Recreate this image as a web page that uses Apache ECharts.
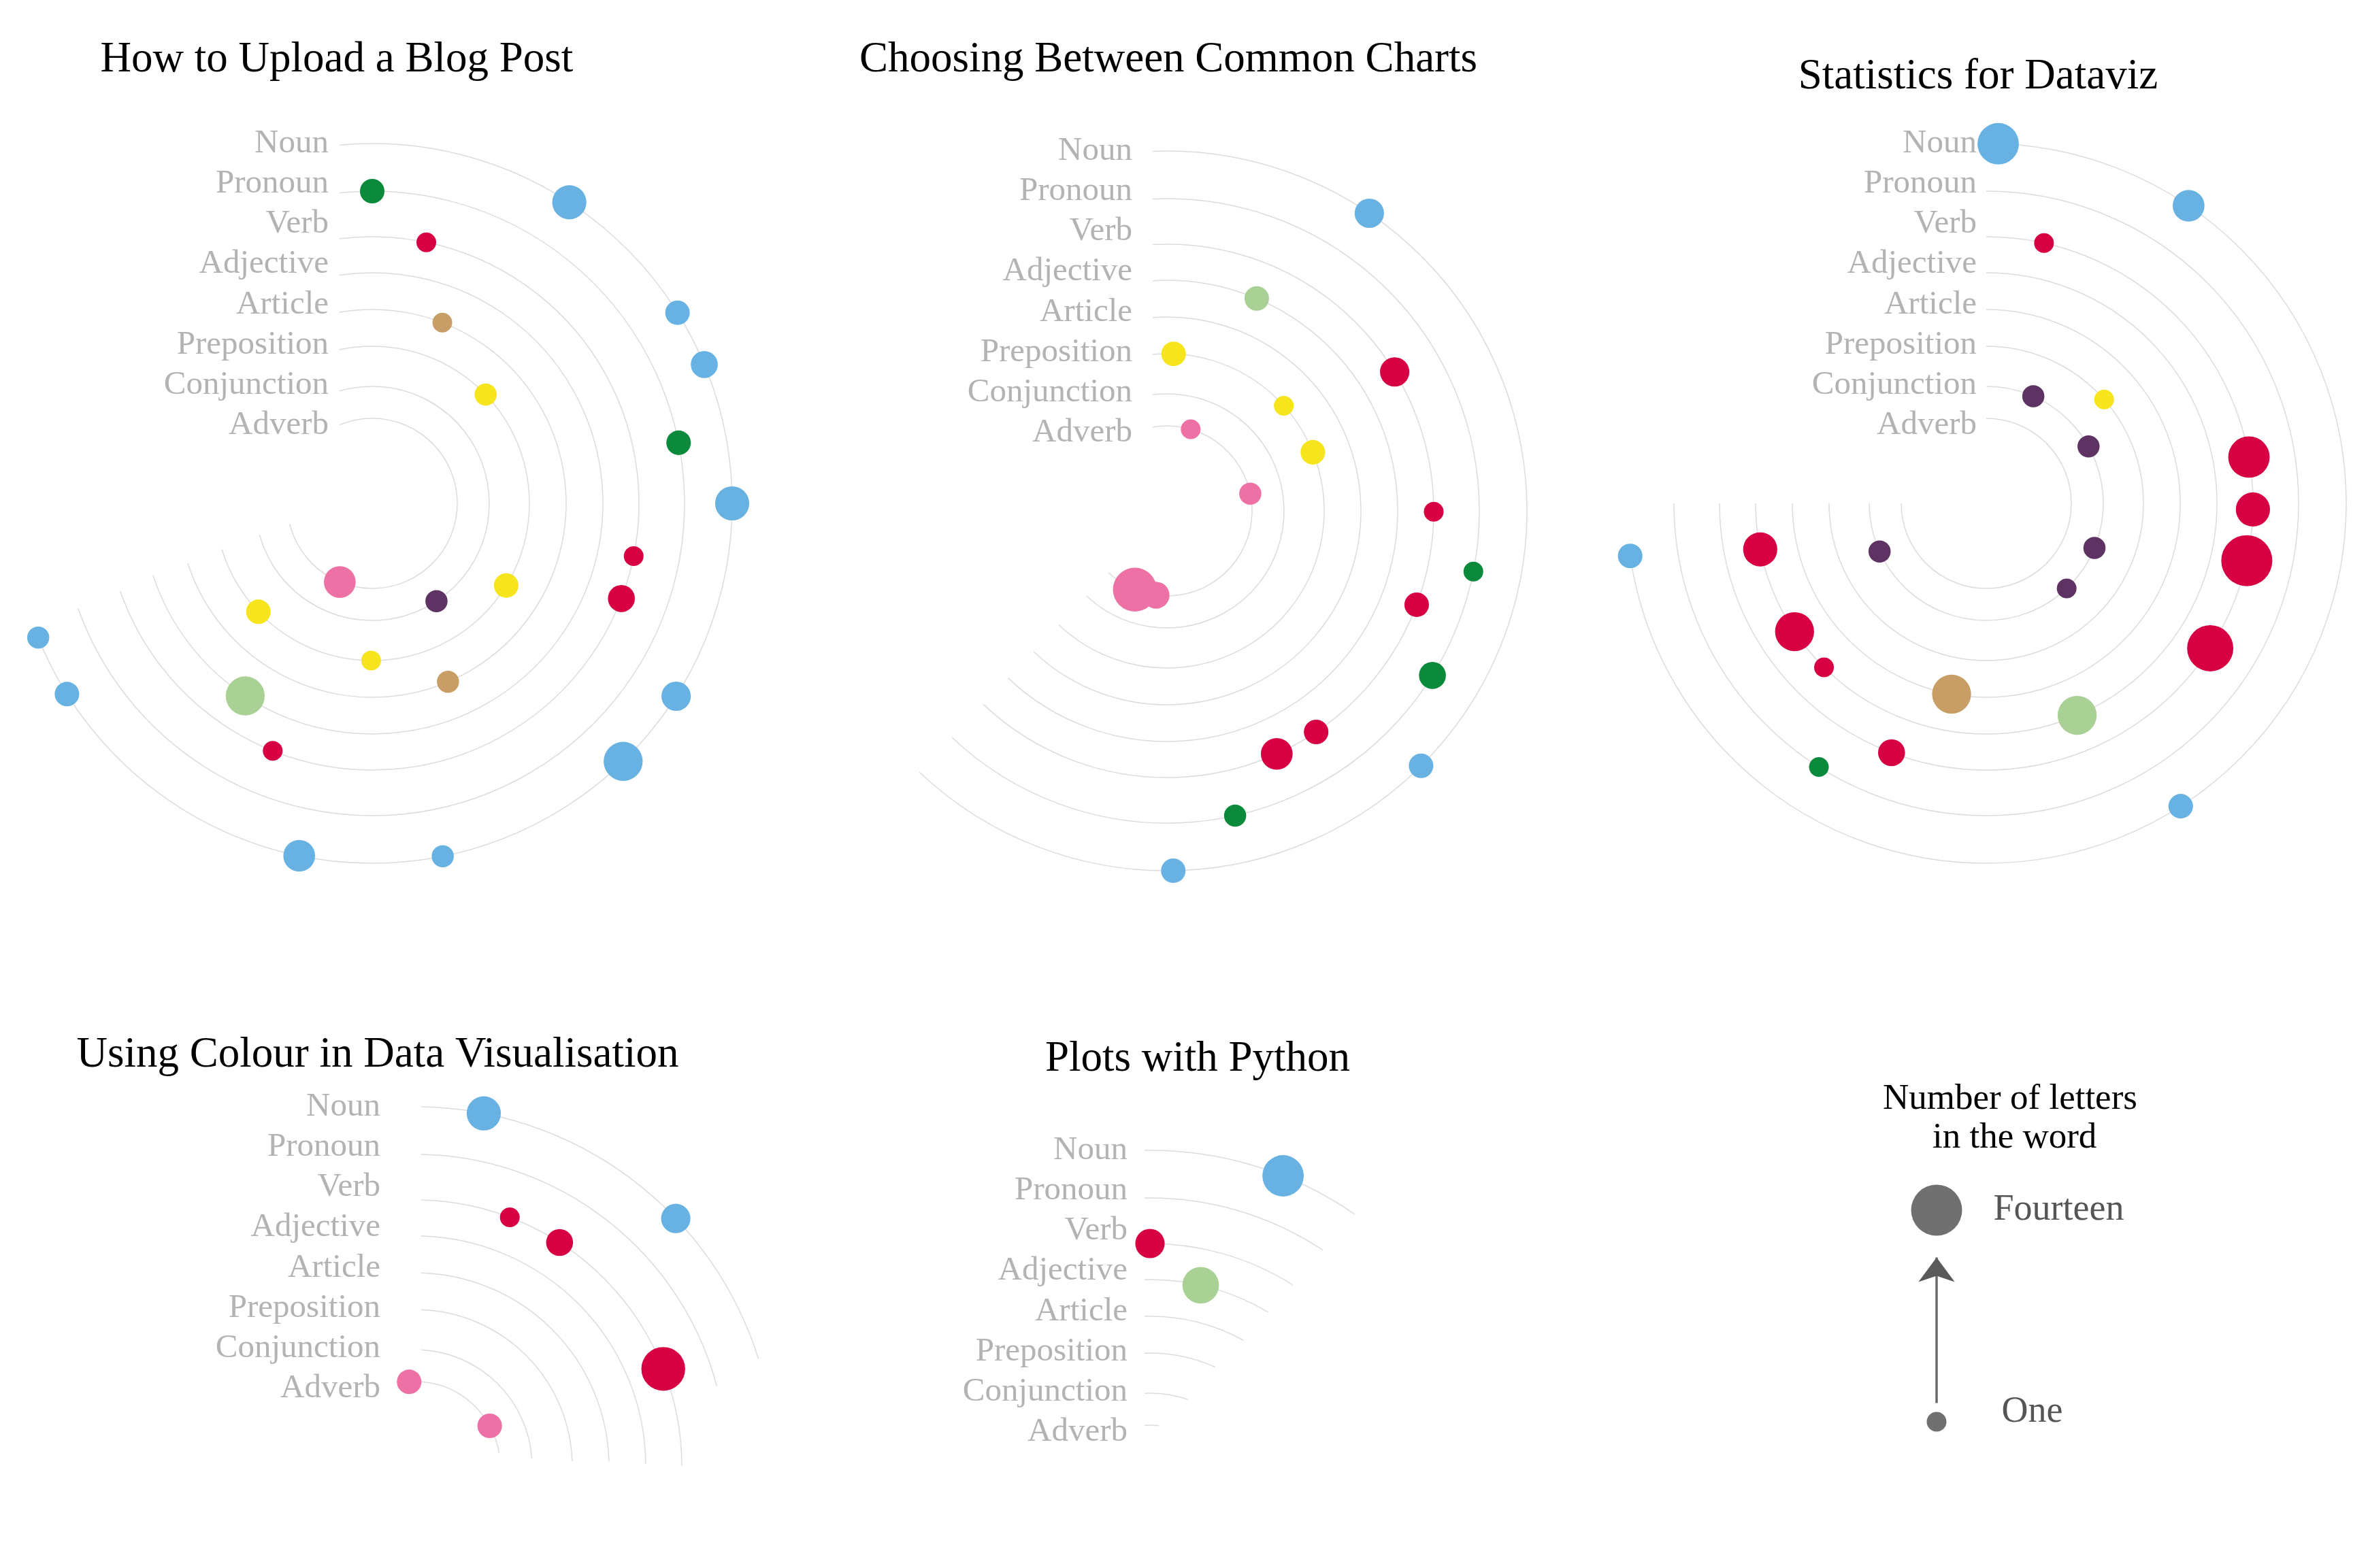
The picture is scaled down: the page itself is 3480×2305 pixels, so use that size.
<!DOCTYPE html>
<html>
<head>
<meta charset="utf-8">
<title>Parts of speech in blog post titles</title>
<script src="https://cdn.jsdelivr.net/npm/echarts@6/dist/echarts.min.js"></script>
<style>
  html, body { margin: 0; padding: 0; background: #fff; }
  #main { width: 3480px; height: 2305px; }
</style>
</head>
<body>
<div id="main"></div>
<script>
// rings, inside out
const partsOfSpeech = ['Adverb', 'Conjunction', 'Preposition', 'Article', 'Adjective', 'Verb', 'Pronoun', 'Noun'];
const ringRadius = [125, 172, 231, 285, 339, 392, 459, 529];
// the names sit evenly spaced, not on the ring heights
const labelLevel = [115, 174, 233, 292, 352, 411, 470, 529];

const posColours = {
  Noun: '#67b2e3',
  Pronoun: '#0b8a3b',
  Verb: '#d70042',
  Adjective: '#a9d196',
  Article: '#c99e66',
  Preposition: '#f6e51c',
  Conjunction: '#5e3262',
  Adverb: '#ee71a6'
};

// each word: [part of speech, angle (deg, clockwise from top), letters, ring if not its own]
const blogPostWords = [
  ['Pronoun', 0, 3], ['Noun', 33.2, 7], ['Verb', 11.7, 1], ['Article', 21.2, 1],
  ['Preposition', 46.2, 2], ['Noun', 58, 3], ['Noun', 67.3, 4], ['Pronoun', 78.8, 3],
  ['Noun', 90, 7], ['Verb', 101.4, 1], ['Verb', 110.9, 4], ['Preposition', 121.5, 3],
  ['Noun', 122.4, 5], ['Noun', 135.8, 9], ['Conjunction', 146.7, 2], ['Article', 157, 2],
  ['Noun', 168.7, 2], ['Preposition', 180.4, 1], ['Noun', 191.7, 6], ['Verb', 201.9, 1],
  ['Adverb', 202.4, 6], ['Adjective', 213.4, 9], ['Preposition', 226.4, 3],
  ['Noun', 238, 3], ['Noun', 248.1, 2]
];
const commonChartsWords = [
  ['Preposition', 2.4, 3], ['Adverb', 16.2, 1], ['Adjective', 22.9, 3], ['Noun', 34.2, 5],
  ['Preposition', 48, 1], ['Verb', 58.6, 5], ['Preposition', 68.1, 3], ['Adverb', 78.3, 2],
  ['Verb', 90.2, 1], ['Pronoun', 101.2, 1], ['Verb', 110.6, 3], ['Pronoun', 121.8, 4],
  ['Noun', 135.1, 3], ['Verb', 146, 3], ['Verb', 155.7, 6], ['Pronoun', 167.4, 2],
  ['Noun', 179, 3], ['Adverb', 187.4, 4], ['Adverb', 202.2, 11]
];
const statisticsWords = [
  ['Noun', 1.9, 10], ['Verb', 12.5, 1], ['Conjunction', 23.7, 2], ['Noun', 34.2, 6],
  ['Preposition', 48.6, 1], ['Conjunction', 60.9, 2], ['Verb', 80, 10], ['Verb', 91.3, 7],
  ['Verb', 102.4, 14], ['Conjunction', 112.4, 2], ['Verb', 122.9, 12], ['Conjunction', 136.6, 1],
  ['Noun', 147.3, 3], ['Adjective', 156.8, 9], ['Article', 190.3, 9], ['Verb', 200.8, 4],
  ['Pronoun', 212.4, 1], ['Verb', 224.7, 1, 'Adjective'], ['Verb', 236.2, 9, 'Adjective'],
  ['Conjunction', 245.7, 2], ['Verb', 258.5, 7, 'Adjective'], ['Noun', 261.6, 3]
];
const colourWords = [
  ['Adverb', -4, 3], ['Noun', 11, 7], ['Verb', 20.8, 1], ['Verb', 32.8, 4],
  ['Noun', 46.4, 5], ['Adverb', 61.3, 3], ['Verb', 68.5, 11]
];
const pythonWords = [
  ['Verb', 0, 5], ['Adjective', 12.7, 8], ['Noun', 21.7, 10]
];

// where each ring stops (deg), inside out
const blogPostArcEnd = [256, 254.5, 253, 252, 251.8, 250.8, 250.3, 248];
const commonChartsArcEnd = [223.5, 223.5, 223.5, 223.5, 223.5, 223.5, 223.5, 223.5];
const statisticsArcEnd = [270, 270, 270, 270, 270, 270, 270, 261.6];
const colourArcEnd = [81, 86, 88, 88.5, 89.3, 89.8, 75, 72.5];
const pythonArcEnd = [6, 19, 24.5, 28.8, 30.8, 32.3, 33.6, 34.6];

const serif = '"Liberation Serif", "DejaVu Serif", serif';

const panels = [
  { title: 'How to Upload a Blog Post', words: blogPostWords, arcEnd: blogPostArcEnd,
    center: [547, 740], titleAt: [490, 83], startGap: 48, labelGap: 64 },
  { title: 'Choosing Between Common Charts', words: commonChartsWords, arcEnd: commonChartsArcEnd,
    center: [1715, 751], titleAt: [1712, 83], startGap: 21, labelGap: 51 },
  { title: 'Statistics for Dataviz', words: statisticsWords, arcEnd: statisticsArcEnd,
    center: [2919, 740], titleAt: [2902, 108], startGap: 0, labelGap: 14 },
  { title: 'Using Colour in Data Visualisation', words: colourWords, arcEnd: colourArcEnd,
    center: [610, 2156], titleAt: [550, 1546], startGap: -9, labelGap: 51 },
  { title: 'Plots with Python', words: pythonWords, arcEnd: pythonArcEnd,
    center: [1690, 2220], titleAt: [1755, 1552], startGap: 8, labelGap: 33 }
];

// dot diameter from number of letters (One -> Fourteen)
function sizeOf(letters) {
  return 29 + (letters - 1) * 46 / 13;
}

function ringRenderer(panel) {
  return function (params, api) {
    const cs = params.coordSys;
    const k = api.value(2);
    const top = api.coord([api.value(0), 0]);
    const R = cs.cy - top[1];
    const gap = panel.startGap;
    const a0 = -Math.asin(gap / R);
    const a1 = panel.arcEnd[k] * Math.PI / 180;
    const labelTop = api.coord([labelLevel[k], 0]);
    return {
      type: 'group',
      children: [
        {
          type: 'arc',
          shape: { cx: cs.cx, cy: cs.cy, r: R, startAngle: a0 - Math.PI / 2, endAngle: a1 - Math.PI / 2, clockwise: true },
          style: { stroke: '#dcdcdc', lineWidth: 1.5, fill: 'none' }
        },
        {
          type: 'text',
          x: cs.cx - panel.labelGap,
          y: labelTop[1],
          style: {
            text: partsOfSpeech[k], fill: '#b3b3b3', font: '49px ' + serif,
            textAlign: 'right', textVerticalAlign: 'middle'
          }
        }
      ]
    };
  };
}

const series = [];
panels.forEach(function (p, i) {
  series.push({
    type: 'custom',
    coordinateSystem: 'polar',
    polarIndex: i,
    silent: true,
    z: 1,
    encode: { radius: 0, angle: 1 },
    data: ringRadius.map(function (r, k) { return [r, 0, k]; }),
    renderItem: ringRenderer(p)
  });
  series.push({
    type: 'scatter',
    coordinateSystem: 'polar',
    polarIndex: i,
    z: 2,
    symbolSize: function (v) { return sizeOf(v[2]); },
    data: p.words.map(function (w) {
      const ring = partsOfSpeech.indexOf(w[3] || w[0]);
      return { value: [ringRadius[ring], w[1], w[2]], itemStyle: { color: posColours[w[0]], opacity: 1 } };
    })
  });
});

// size legend
const legendLetters = [1, 14];
const legendNames = ['One', 'Fourteen'];
const legendArrow = [2.15, 11.1];

series.push({
  type: 'line',
  xAxisIndex: 0,
  yAxisIndex: 0,
  silent: true,
  z: 3,
  lineStyle: { color: '#6a6a6a', width: 3.5 },
  itemStyle: { color: '#5a5a5a', opacity: 1 },
  showSymbol: true,
  data: [
    { value: [0, legendArrow[0]], symbol: 'none' },
    { value: [0, legendArrow[1]], symbol: 'arrow', symbolSize: [40, 36] }
  ]
});
series.push({
  type: 'scatter',
  xAxisIndex: 0,
  yAxisIndex: 0,
  z: 3,
  symbolSize: function (v) { return sizeOf(v[1]); },
  itemStyle: { color: '#707070', opacity: 1 },
  label: { show: true, position: 'right', color: '#555', fontSize: 54, fontFamily: serif },
  data: [
    { value: [0, legendLetters[0]], label: { formatter: legendNames[0], distance: 81, offset: [0, -14] } },
    { value: [0, legendLetters[1]], label: { formatter: legendNames[1], distance: 46 } }
  ]
});

const titles = panels.map(function (p) {
  return {
    text: p.title,
    left: p.titleAt[0],
    top: p.titleAt[1],
    textAlign: 'center',
    textVerticalAlign: 'middle',
    textStyle: { fontFamily: serif, fontSize: 63, fontWeight: 'normal', color: '#000' }
  };
});
titles.push({
  text: 'Number of letters\n in the word',
  left: 2949,
  top: 1640,
  textAlign: 'center',
  textVerticalAlign: 'middle',
  textStyle: { fontFamily: serif, fontSize: 53, fontWeight: 'normal', color: '#000', lineHeight: 57 }
});

const chart = echarts.init(document.getElementById('main'), null, { renderer: 'canvas' });
chart.setOption({
  animation: false,
  backgroundColor: '#ffffff',
  title: titles,
  polar: panels.map(function (p) { return { center: p.center, radius: ringRadius[7] }; }),
  angleAxis: panels.map(function (p, i) {
    return { polarIndex: i, type: 'value', min: 0, max: 360, startAngle: 90, clockwise: true, show: false };
  }),
  radiusAxis: panels.map(function (p, i) {
    return { polarIndex: i, type: 'value', min: 0, max: ringRadius[7], show: false };
  }),
  grid: [{ left: 2796, top: 1779, width: 100, height: 311 }],
  xAxis: [{ gridIndex: 0, type: 'value', min: -1, max: 1, show: false }],
  yAxis: [{ gridIndex: 0, type: 'value', min: 1, max: 14, show: false }],
  series: series
});
</script>
</body>
</html>
